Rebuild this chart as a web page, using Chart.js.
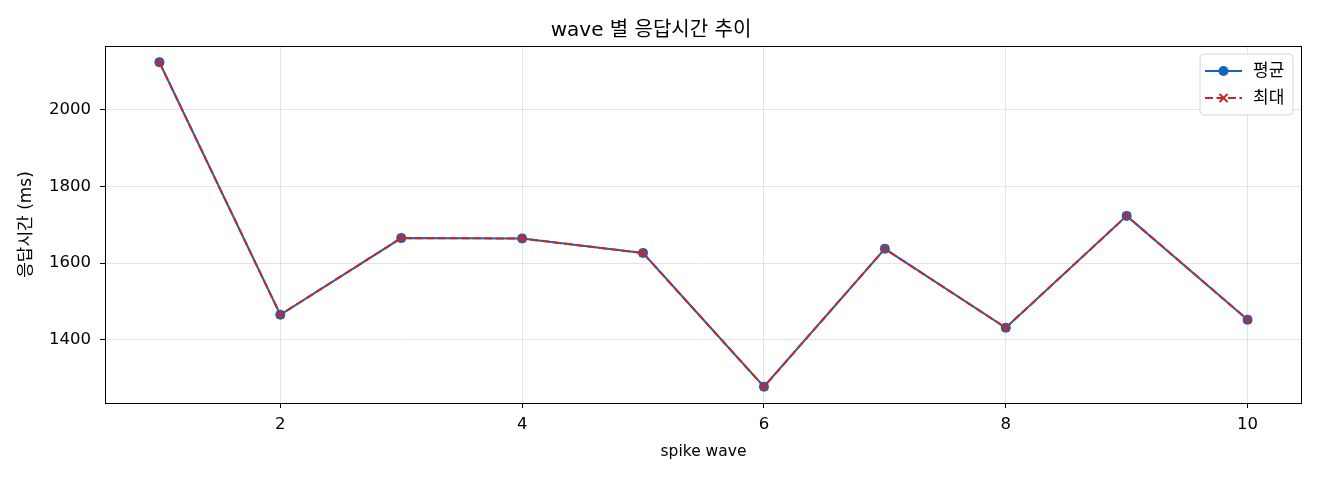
<!DOCTYPE html>
<html>
<head>
<meta charset="utf-8">
<script src="https://cdn.jsdelivr.net/npm/chart.js@4.4.0/dist/chart.umd.min.js"></script>
<style>
  html, body { margin: 0; padding: 0; background: #fff; }
  #wrap { width: 1320px; height: 480px; }
</style>
</head>
<body>
<div id="wrap"><canvas id="waveChart" width="1320" height="480"></canvas></div>
<script>
// wave 번호
const waves = [1, 2, 3, 4, 5, 6, 7, 8, 9, 10];
// 평균 응답시간 (ms)
const avgMs = [2124, 1465, 1665, 1664, 1626, 1277, 1637, 1431, 1723, 1452];
// 최대 응답시간 (ms) - 평균과 거의 겹침
const maxMs = [2124, 1465, 1665, 1664, 1626, 1277, 1637, 1431, 1723, 1452];
// 눈금
const xTicks = [2, 4, 6, 8, 10];
const yTicks = [1400, 1600, 1800, 2000];

const FONT = "'DejaVu Sans', 'Noto Sans CJK KR', sans-serif";
const BLUE = '#1565c0';
const RED = '#c62828';

const toPoints = (ys) => waves.map((x, i) => ({ x: x, y: ys[i] }));

// 테두리 + 범례 직접 그리기
const framePlugin = {
  id: 'frame',
  afterDraw(chart) {
    const { ctx, chartArea: a } = chart;
    ctx.save();
    ctx.strokeStyle = '#000';
    ctx.lineWidth = 1;
    ctx.strokeRect(Math.round(a.left) + 0.5, Math.round(a.top) + 0.5,
      Math.round(a.right - a.left) - 1, Math.round(a.bottom - a.top));

    // 범례
    const bx = a.right - 102, by = a.top + 8, bw = 93, bh = 61;
    ctx.fillStyle = 'rgba(255,255,255,0.85)';
    ctx.strokeStyle = '#d6d6d6';
    ctx.beginPath();
    ctx.roundRect(bx, by, bw, bh, 4);
    ctx.fill();
    ctx.stroke();

    chart.data.datasets.forEach((ds, i) => {
      const y = by + 17 + i * 27;
      const x0 = bx + 5, x1 = bx + 42, xm = (x0 + x1) / 2;
      ctx.strokeStyle = ds.borderColor;
      ctx.lineWidth = ds.borderWidth;
      ctx.setLineDash(ds.borderDash || []);
      ctx.beginPath();
      ctx.moveTo(x0, y);
      ctx.lineTo(x1, y);
      ctx.stroke();
      ctx.setLineDash([]);
      if (ds.pointStyle === 'circle') {
        ctx.fillStyle = ds.pointBackgroundColor;
        ctx.beginPath();
        ctx.arc(xm, y, 5, 0, Math.PI * 2);
        ctx.fill();
      } else {
        ctx.lineWidth = 2;
        ctx.beginPath();
        ctx.moveTo(xm - 4, y - 4); ctx.lineTo(xm + 4, y + 4);
        ctx.moveTo(xm + 4, y - 4); ctx.lineTo(xm - 4, y + 4);
        ctx.stroke();
      }
      ctx.fillStyle = '#000';
      ctx.font = '17px ' + FONT;
      ctx.textBaseline = 'middle';
      ctx.fillText(ds.label, bx + 53, y + 1);
    });
    ctx.restore();
  }
};

new Chart(document.getElementById('waveChart'), {
  type: 'line',
  data: {
    datasets: [
      {
        label: '평균',
        data: toPoints(avgMs),
        borderColor: BLUE,
        backgroundColor: BLUE,
        borderWidth: 2,
        pointStyle: 'circle',
        pointRadius: 5,
        pointBackgroundColor: BLUE,
        pointBorderColor: BLUE,
        pointBorderWidth: 0,
        order: 1,
      },
      {
        label: '최대',
        data: toPoints(maxMs),
        borderColor: RED,
        backgroundColor: RED,
        borderWidth: 2,
        borderDash: [8, 3.5],
        pointStyle: 'crossRot',
        pointRadius: 5,
        pointBorderColor: RED,
        pointBorderWidth: 2,
        order: 0,
      },
    ],
  },
  options: {
    responsive: false,
    animation: false,
    events: [],
    layout: { padding: { left: 0, right: 18, top: 0, bottom: 0 } },
    plugins: {
      legend: { display: false },
      tooltip: { enabled: false },
      title: {
        display: true,
        text: 'wave 별 응답시간 추이',
        color: '#000',
        font: { family: FONT, size: 20, weight: 'normal' },
        padding: { top: 19, bottom: 3 },
      },
    },
    scales: {
      x: {
        type: 'linear',
        min: 0.55,
        max: 10.45,
        afterFit: (s) => { s.height = 77; },
        afterBuildTicks: (s) => { s.ticks = xTicks.map((v) => ({ value: v })); },
        ticks: { color: '#000', padding: 7, font: { family: FONT, size: 16.5 }, callback: (v) => String(v) },
        grid: { color: '#e4e4e4', lineWidth: 1, tickColor: '#000', tickLength: 5 },
        border: { display: false },
        title: {
          display: true,
          text: 'spike wave',
          color: '#000',
          font: { family: FONT, size: 15.5 },
          padding: { top: 0, bottom: 19 },
        },
      },
      y: {
        type: 'linear',
        min: 1234.6,
        max: 2166.4,
        afterFit: (s) => { s.width = 105; },
        afterBuildTicks: (s) => { s.ticks = yTicks.map((v) => ({ value: v })); },
        ticks: { color: '#000', padding: 9, font: { family: FONT, size: 16.5 }, callback: (v) => String(v) },
        grid: { color: '#e4e4e4', lineWidth: 1, tickColor: '#000', tickLength: 5 },
        border: { display: false },
        title: {
          display: true,
          text: '응답시간 (ms)',
          color: '#000',
          font: { family: FONT, size: 17 },
          padding: { top: 16, bottom: 0 },
        },
      },
    },
  },
  plugins: [framePlugin],
});
</script>
</body>
</html>
